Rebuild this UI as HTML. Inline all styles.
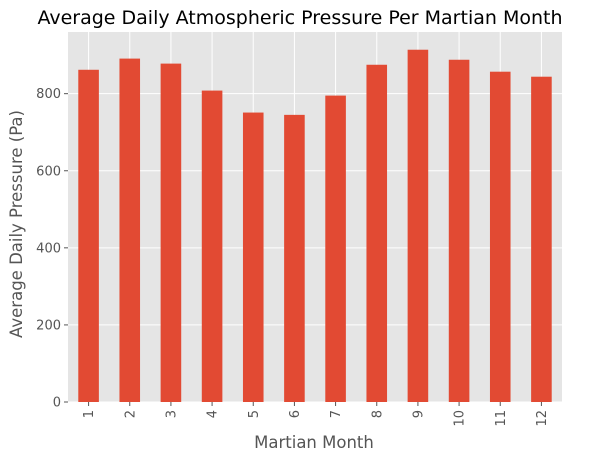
<!DOCTYPE html>
<html><head><meta charset="utf-8"><style>
body{margin:0;background:#fff;}
svg{display:block;font-family:"DejaVu Sans","Liberation Sans",sans-serif;}
</style></head><body>
<svg id="chart" width="602" height="460">
<rect x="68" y="32" width="494" height="370" fill="#e5e5e5"/>
<g id="grid"></g><g id="bars"></g><g id="ticks"></g>
<text x="300" y="24" text-anchor="middle" font-size="19" fill="#000">Average Daily Atmospheric Pressure Per Martian Month</text>
<text x="314" y="448" text-anchor="middle" font-size="16.5" fill="#555">Martian Month</text>
<text transform="translate(22,224) rotate(-90)" text-anchor="middle" font-size="16.5" fill="#555">Average Daily Pressure (Pa)</text>
</svg>
<script>
const categories=["1","2","3","4","5","6","7","8","9","10","11","12"];
const pressureValues=[862,891,878,808,751,745,795,875,914,888,857,844];
const yTicks=[0,200,400,600,800];
const ymax=960;
const L=68,R=562,T=32,B=402;
const NS="http://www.w3.org/2000/svg";
const step=(R-L)/categories.length;
const xS=i=>L+step*(i+0.5);
const yS=v=>B-(v/ymax)*(B-T);
function mk(t,a,p){const e=document.createElementNS(NS,t);for(const k in a)e.setAttribute(k,a[k]);p.appendChild(e);return e;}
const g=document.getElementById('grid'),b=document.getElementById('bars'),tk=document.getElementById('ticks');
yTicks.forEach(v=>{
 const l=mk('line',{x1:L,x2:R,y1:yS(v),y2:yS(v),stroke:'#fff','stroke-width':1},g);
 
 
 mk('line',{x1:L-4,x2:L,y1:yS(v),y2:yS(v),stroke:'#555'},tk);
 const t=mk('text',{x:L-7,y:yS(v)+4.5,'text-anchor':'end','font-size':13,fill:'#555'},tk);
 t.textContent=v;
 
 
});
categories.forEach((c,i)=>{
 const l=mk('line',{x1:xS(i),x2:xS(i),y1:T,y2:B,stroke:'#fff'},g);
 
 
});
categories.forEach((c,i)=>{
 const w=step*0.5,y=yS(pressureValues[i]);
 const r=mk('rect',{x:xS(i)-w/2,y:y,width:w,height:B-y,fill:'#e24a33'},b);
 
 
 mk('line',{x1:xS(i),x2:xS(i),y1:B,y2:B+4,stroke:'#555'},tk);
 const t=mk('text',{transform:`translate(${xS(i)+4.5},${B+8}) rotate(-90)`,'text-anchor':'end','font-size':13,fill:'#555'},tk);
 t.textContent=c;
 
 
});
</script>
</body></html>
